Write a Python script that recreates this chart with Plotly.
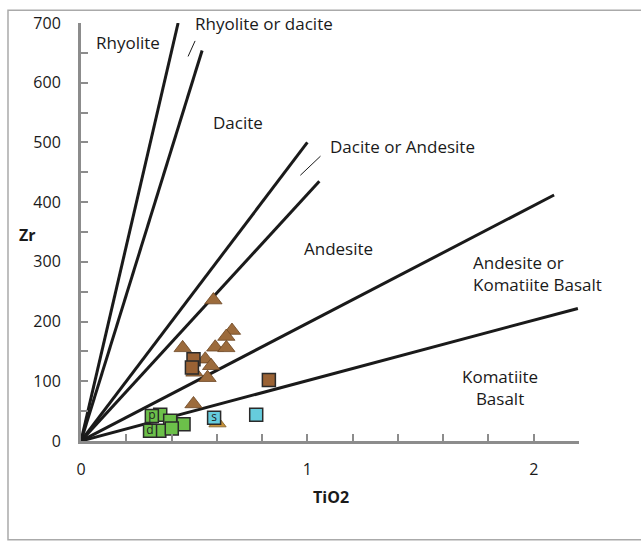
import plotly.graph_objects as go

# Discrimination lines (origin -> end point)
line_x_end = [0.429, 0.535, 1.0, 1.053, 2.09, 2.195]
line_y_end = [700, 654, 500, 435, 412, 222]

# Leader lines
leader_x = [[0.473, 0.504], [0.969, 1.058]]
leader_y = [[644, 670], [445, 477]]

# Data
tri_x = [0.585, 0.667, 0.642, 0.593, 0.642, 0.449, 0.549, 0.575, 0.559, 0.497, 0.501]
tri_y = [236, 185, 175, 157, 156, 156, 137, 126, 106, 62, 115]
orange_tri_x = [0.603]
orange_tri_y = [30]
brown_sq_x = [0.497, 0.490, 0.830]
brown_sq_y = [137, 123, 102]
cyan_sq_x = [0.588, 0.774]
cyan_sq_y = [39, 44]
cyan_sq_text = ["s", ""]
green_sq_x = [0.35, 0.394, 0.453, 0.346, 0.401, 0.313, 0.305]
green_sq_y = [44, 34, 28, 17, 21, 42, 17]
green_sq_text = ["", "", "", "", "", "p", "d"]

# Region labels
labels = [
    ("Rhyolite", 0.208, 668, "center"),
    ("Rhyolite or dacite", 0.495, 699, "left"),
    ("Dacite", 0.695, 533, "center"),
    ("Dacite or Andesite", 1.093, 494, "left"),
    ("Andesite", 1.137, 323, "center"),
    ("Andesite or<br>Komatiite Basalt", 1.722, 280, "left"),
    ("Komatiite<br>Basalt", 1.85, 90, "center"),
]

FONT = "Open Sans"
fig = go.Figure()

for xe, ye in zip(line_x_end, line_y_end):
    fig.add_trace(go.Scatter(x=[0, xe], y=[0, ye], mode="lines",
                             line=dict(color="#1a1a1a", width=3), hoverinfo="skip"))
for lx, ly in zip(leader_x, leader_y):
    fig.add_trace(go.Scatter(x=lx, y=ly, mode="lines",
                             line=dict(color="#1a1a1a", width=1), hoverinfo="skip"))

fig.add_trace(go.Scatter(x=tri_x, y=tri_y, mode="markers",
                         marker=dict(symbol="triangle-up", size=15, color="#9C6B3C",
                                     line=dict(color="#6b4522", width=0.8))))
fig.add_trace(go.Scatter(x=orange_tri_x, y=orange_tri_y, mode="markers",
                         marker=dict(symbol="triangle-up", size=15, color="#C8923A",
                                     line=dict(color="#7a5a22", width=0.8))))
fig.add_trace(go.Scatter(x=brown_sq_x, y=brown_sq_y, mode="markers",
                         marker=dict(symbol="square", size=13, color="#9A6234",
                                     line=dict(color="#2a2a2a", width=1.5))))
fig.add_trace(go.Scatter(x=cyan_sq_x, y=cyan_sq_y, mode="markers+text",
                         text=cyan_sq_text, textposition="middle center",
                         textfont=dict(family=FONT, size=12, color="#222"),
                         marker=dict(symbol="square", size=13, color="#66CCDD",
                                     line=dict(color="#2a2a2a", width=1.5))))
fig.add_trace(go.Scatter(x=green_sq_x, y=green_sq_y, mode="markers+text",
                         text=green_sq_text, textposition="middle center",
                         textfont=dict(family=FONT, size=12, color="#222"),
                         marker=dict(symbol="square", size=13, color="#6CC04A",
                                     line=dict(color="#2a2a2a", width=1.5))))

for txt, x, y, al in labels:
    fig.add_annotation(x=x, y=y, text=txt, showarrow=False, xanchor=al, align=al,
                       yanchor="middle", font=dict(family=FONT, size=17, color="#1a1a1a"))

# axis titles
fig.add_annotation(xref="paper", yref="paper", x=(27 - 81) / 498, y=(441 - 233) / 423,
                   text="<b>Zr</b>", showarrow=False, xanchor="center", yanchor="middle",
                   font=dict(family=FONT, size=16, color="#1a1a1a"))
fig.add_annotation(xref="paper", yref="paper", x=(331 - 81) / 498, y=(441 - 498) / 423,
                   text="<b>TiO2</b>", showarrow=False, xanchor="center", yanchor="middle",
                   font=dict(family=FONT, size=16, color="#1a1a1a"))

# outer frame
fig.add_shape(type="rect", xref="paper", yref="paper",
              x0=-0.1466, x1=1.2, y0=-0.2364, y1=1.0307,
              line=dict(color="#AAAAAA", width=1.5), layer="below")

xt = [round(0.2 * i, 1) for i in range(12)]
xtt = [("%g" % v) if v in (0, 1, 2) else "" for v in xt]
yt = list(range(0, 701, 50))
ytt = [str(v) if v % 100 == 0 else "" for v in yt]

fig.update_layout(
    width=641, height=542,
    margin=dict(l=81, r=62, t=18, b=101),
    paper_bgcolor="white", plot_bgcolor="white",
    showlegend=False,
    font=dict(family=FONT, size=16, color="#1a1a1a"),
    xaxis=dict(range=[0, 2.2], showgrid=False, zeroline=False,
               showline=True, linecolor="#8C8C8C", linewidth=3,
               ticks="inside", ticklen=7, tickwidth=2, tickcolor="#8C8C8C",
               tickvals=xt, ticktext=xtt, ticklabelstandoff=12),
    yaxis=dict(range=[0, 700], showgrid=False, zeroline=False,
               showline=True, linecolor="#8C8C8C", linewidth=3,
               ticks="inside", ticklen=7, tickwidth=2, tickcolor="#8C8C8C",
               tickvals=yt, ticktext=ytt, ticklabelstandoff=14),
)

fig.write_html("out.html")
